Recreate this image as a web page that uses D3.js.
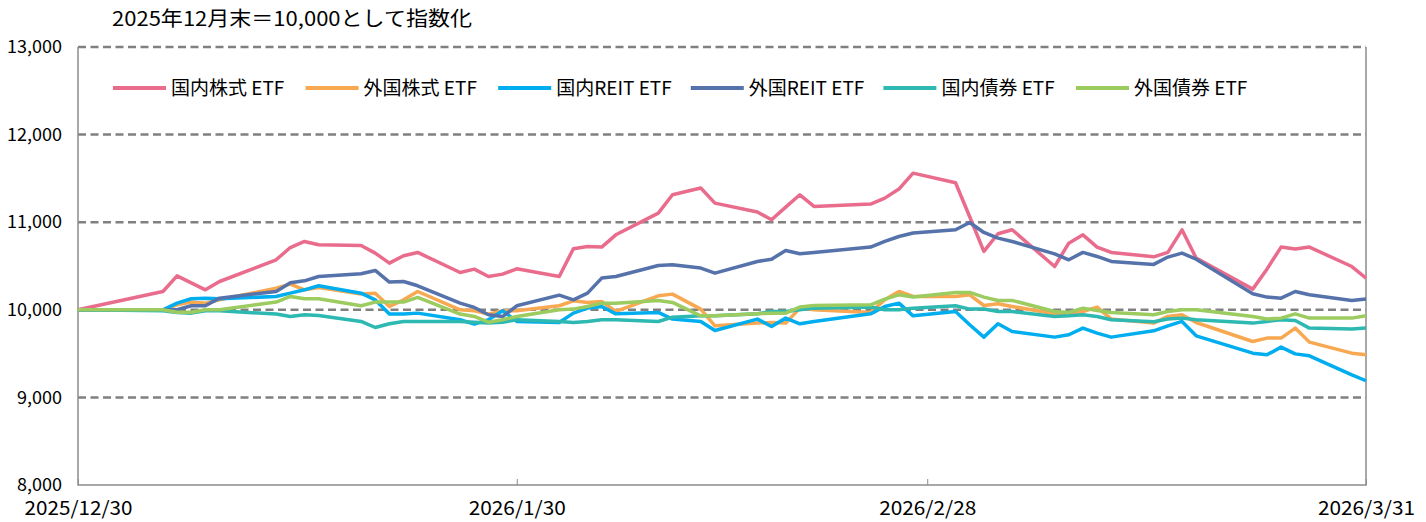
<!DOCTYPE html>
<html>
<head>
<meta charset="utf-8">
<script src="https://cdn.jsdelivr.net/npm/d3@7"></script>
<style>
    body { margin: 0; background: #ffffff; }
    svg { display: block; }
    text { font-family: "Noto Sans CJK JP", "Noto Sans", sans-serif; fill: #000000; }
</style>
</head>
<body>
<svg id="chart" width="1426" height="522"></svg>
<script>
// trading days, 2025/12/30 = start
const dates = [
    "2025-12-30",
    "2026-01-05", "2026-01-06", "2026-01-07", "2026-01-08", "2026-01-09",
    "2026-01-13", "2026-01-14", "2026-01-15", "2026-01-16",
    "2026-01-19", "2026-01-20", "2026-01-21", "2026-01-22", "2026-01-23",
    "2026-01-26", "2026-01-27", "2026-01-28", "2026-01-29", "2026-01-30",
    "2026-02-02", "2026-02-03", "2026-02-04", "2026-02-05", "2026-02-06",
    "2026-02-09", "2026-02-10", "2026-02-12", "2026-02-13",
    "2026-02-16", "2026-02-17", "2026-02-18", "2026-02-19", "2026-02-20",
    "2026-02-24", "2026-02-25", "2026-02-26", "2026-02-27",
    "2026-03-02", "2026-03-03", "2026-03-04", "2026-03-05", "2026-03-06",
    "2026-03-09", "2026-03-10", "2026-03-11", "2026-03-12", "2026-03-13",
    "2026-03-16", "2026-03-17", "2026-03-18", "2026-03-19",
    "2026-03-23", "2026-03-24", "2026-03-25", "2026-03-26", "2026-03-27",
    "2026-03-30", "2026-03-31"
];

const domesticStock = [
    10000,
    10209, 10388, 10308, 10228, 10323,
    10571, 10711, 10780, 10742,
    10735, 10647, 10533, 10617, 10655,
    10426, 10464, 10380, 10407, 10468,
    10380, 10697, 10723, 10716, 10856,
    11104, 11313, 11390, 11218,
    11116, 11028, 11172, 11313, 11180,
    11207, 11275, 11378, 11560,
    11450, 11062, 10666, 10868, 10914,
    10494, 10761, 10856, 10716, 10655,
    10605, 10655, 10913, 10590,
    10236, 10464, 10716, 10693, 10716,
    10494, 10362
];

const foreignStock = [
    10000,
    10000, 10057, 10088, 10076, 10114,
    10247, 10293, 10228, 10255,
    10179, 10190, 10038, 10114, 10209,
    10000, 9989, 9951, 9989, 9990,
    10046, 10103, 10084, 10095, 9981,
    10160, 10179, 10008, 9817,
    9848, 9855, 9848, 10019, 10000,
    9970, 10114, 10209, 10152,
    10152, 10171, 10049, 10068, 10038,
    9954, 9962, 9981, 10031, 9894,
    9848, 9924, 9943, 9855,
    9638, 9677, 9677, 9791, 9631,
    9505, 9486
];

const domesticReit = [
    10000,
    10000, 10076, 10126, 10133, 10126,
    10152, 10190, 10228, 10274,
    10190, 10114, 9951, 9951, 9962,
    9886, 9837, 9886, 9989, 9867,
    9855, 9962, 10019, 10038, 9954,
    9970, 9894, 9867, 9764,
    9894, 9810, 9905, 9840, 9867,
    9954, 10038, 10076, 9931,
    9981, 9829, 9688, 9840, 9752,
    9688, 9715, 9791, 9734, 9688,
    9760, 9817, 9867, 9703,
    9505, 9486, 9574, 9497, 9475,
    9258, 9190
];

const foreignReit = [
    10000,
    10000, 10000, 10046, 10046, 10133,
    10209, 10310, 10331, 10380,
    10411, 10449, 10316, 10323, 10274,
    10076, 10027, 9943, 9923, 10046,
    10167, 10114, 10190, 10362, 10380,
    10506, 10514, 10476, 10419,
    10552, 10578, 10677, 10639, 10655,
    10716, 10780, 10837, 10876,
    10913, 10997, 10883, 10818, 10780,
    10639, 10571, 10655, 10609, 10552,
    10518, 10602, 10647, 10578,
    10183, 10145, 10133, 10209, 10171,
    10107, 10122
];

const domesticBond = [
    10000,
    9989, 9970, 9962, 9989, 9989,
    9951, 9924, 9943, 9935,
    9867, 9798, 9840, 9867, 9867,
    9867, 9859, 9848, 9859, 9886,
    9867, 9855, 9867, 9886, 9886,
    9867, 9916, 9931, 9931,
    9954, 9981, 9981, 10000, 10019,
    10031, 10000, 10000, 10019,
    10046, 10008, 10008, 9981, 9981,
    9924, 9931, 9943, 9924, 9886,
    9863, 9894, 9905, 9886,
    9848, 9867, 9886, 9878, 9791,
    9780, 9791
];

const foreignBond = [
    10000,
    10000, 9973, 9973, 10000, 10000,
    10088, 10152, 10126, 10126,
    10046, 10088, 10088, 10088, 10141,
    9951, 9924, 9859, 9886, 9924,
    10000, 10008, 10038, 10076, 10076,
    10107, 10084, 9931, 9931,
    9954, 9962, 9962, 10031, 10049,
    10057, 10122, 10171, 10145,
    10198, 10198, 10145, 10107, 10107,
    9981, 9970, 10019, 9992, 9970,
    9943, 9981, 10000, 10000,
    9924, 9894, 9905, 9954, 9905,
    9905, 9931
];

const seriesNames = ["国内株式 ETF", "外国株式 ETF", "国内REIT ETF", "外国REIT ETF", "国内債券 ETF", "外国債券 ETF"];
const seriesValues = [domesticStock, foreignStock, domesticReit, foreignReit, domesticBond, foreignBond];
const seriesColors = ["#EA6C8D", "#F7A850", "#00AEEF", "#5672AA", "#2DB8B2", "#9CCB5F"];

const yTicks = [8000, 9000, 10000, 11000, 12000, 13000];
const xTicks = ["2025-12-30", "2026-01-30", "2026-02-28", "2026-03-31"];
const titleText = "2025年12月末＝10,000として指数化";

const svg = d3.select("#chart");
const parseDate = d3.timeParse("%Y-%m-%d");
const formatDate = d3.timeFormat("%Y/%-m/%-d");

const plot = { left: 78, right: 1366, top: 47, bottom: 485 };

const x = d3.scaleTime()
    .domain([parseDate(xTicks[0]), parseDate(xTicks[xTicks.length - 1])])
    .range([plot.left, plot.right]);

const y = d3.scaleLinear()
    .domain([8000, 13000])
    .range([plot.bottom, plot.top]);

drawChart();

function drawChart() {
    svg.append("text")
        .attr("x", 112)
        .attr("y", 26)
        .attr("font-size", 20)
        .attr("textLength", 360)
        .attr("lengthAdjust", "spacingAndGlyphs")
        .text(titleText);

    // dashed grid
    svg.append("g")
        .selectAll("line")
        .data(yTicks.slice(1))
        .join("line")
        .attr("x1", plot.left)
        .attr("x2", plot.right)
        .attr("y1", function(d) { return y(d); })
        .attr("y2", function(d) { return y(d); })
        .attr("stroke", "#808080")
        .attr("stroke-width", 2.5)
        .attr("stroke-dasharray", "8,4.5");

    const yAxis = svg.append("g")
        .attr("transform", "translate(" + plot.left + ",0)")
        .call(d3.axisLeft(y).tickValues(yTicks).tickSize(0).tickPadding(16).tickFormat(d3.format(",")));
    yAxis.select(".domain").remove();
    yAxis.selectAll("text")
        .attr("font-size", 18)
        .attr("font-family", "\"Liberation Sans\", Arial, sans-serif");

    const xAxis = svg.append("g")
        .attr("transform", "translate(0," + plot.bottom + ")")
        .call(d3.axisBottom(x)
            .tickValues(xTicks.map(parseDate))
            .tickSize(-6)
            .tickPadding(17)
            .tickFormat(formatDate));
    xAxis.select(".domain").remove();
    xAxis.selectAll("line").attr("stroke", "#8c8c8c");
    xAxis.selectAll("text")
        .attr("font-size", 19)
        .attr("textLength", function(d) { return formatDate(d).length * 10.8; })
        .attr("lengthAdjust", "spacingAndGlyphs");

    // frame: left, bottom, right
    svg.append("path")
        .attr("d", "M" + plot.left + "," + plot.top + "V" + plot.bottom + "H" + plot.right + "V" + plot.top)
        .attr("fill", "none")
        .attr("stroke", "#8c8c8c")
        .attr("stroke-width", 1.5);

    const line = d3.line()
        .x(function(d, i) { return x(parseDate(dates[i])); })
        .y(function(d) { return y(d); });

    svg.append("g")
        .selectAll("path")
        .data(seriesValues)
        .join("path")
        .attr("d", line)
        .attr("fill", "none")
        .attr("stroke", function(d, i) { return seriesColors[i]; })
        .attr("stroke-width", 3.5)
        .attr("stroke-linejoin", "round");

    drawLegend();
}

function drawLegend() {
    const legend = svg.append("g")
        .attr("transform", "translate(113, 88)");

    const items = legend.selectAll("g")
        .data(seriesNames)
        .join("g")
        .attr("transform", function(d, i) { return "translate(" + (i * 192.6) + ",0)"; });

    items.append("line")
        .attr("x1", 0)
        .attr("x2", 53)
        .attr("stroke", function(d, i) { return seriesColors[i]; })
        .attr("stroke-width", 4);

    items.append("text")
        .attr("x", 58)
        .attr("y", 7)
        .attr("font-size", 19)
        .text(function(d) { return d; });
}
</script>
</body>
</html>
